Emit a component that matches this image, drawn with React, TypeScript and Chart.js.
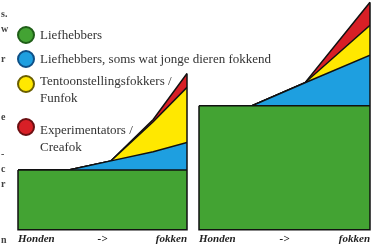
import React, { useEffect, useRef } from "react";
import { Chart, registerables } from "chart.js";

Chart.register(...registerables);

// ---- data ----
const seriesNames = [
  "Liefhebbers",
  "Liefhebbers, soms wat jonge dieren fokkend",
  "Tentoonstellingsfokkers /\nFunfok",
  "Experimentators /\nCreafok",
];
const seriesColors = ["#43a333", "#1e9fe0", "#ffe800", "#d81f26"];
const circleBorders = ["#1f5e18", "#0e4f86", "#6a5e00", "#6b0f12"];

const axisLabels = ["Honden", "->", "fokken"];
const axisTickPositions = [0, 50, 100];

const leftX = [0, 30, 55, 80, 100];
const leftGreen = [26, 26, 26, 26, 26];
const leftBlue = [0, 0, 4, 8, 12];
const leftYellow = [0, 0, 0, 13, 24];
const leftRed = [0, 0, 0, 1, 6];

const rightX = [0, 31, 62, 100];
const rightGreen = [54, 54, 54, 54];
const rightBlue = [0, 0, 10, 22];
const rightYellow = [0, 0, 0, 13];
const rightRed = [0, 0, 0, 10];

const marginFragments = ["s.", "w", "r", "e", "-", "c", "r", "n"];

// ---- layout / style constants ----
const fragmentTops = [8, 23, 53, 111, 148, 163, 178, 234];
const legendTops = [26, 50, 72, 121];
const circleOffsets = [0, 0, 3, -3];

const outlinePlugin = {
  id: "outline",
  afterDatasetsDraw(chart: any) {
    const { ctx, scales } = chart;
    const xs = chart.data.datasets[0].data.map((p: any) => p.x);
    const n = xs.length;
    const sumAt = (j: number) =>
      chart.data.datasets.reduce((s: number, d: any) => s + d.data[j].y, 0);
    const x0 = scales.x.getPixelForValue(xs[0]);
    const x1 = scales.x.getPixelForValue(xs[n - 1]);
    const yb = scales.y.getPixelForValue(0);
    const yl = scales.y.getPixelForValue(sumAt(0));
    const yr = scales.y.getPixelForValue(sumAt(n - 1));
    ctx.save();
    ctx.strokeStyle = "#111";
    ctx.lineWidth = 1.5;
    ctx.beginPath();
    ctx.moveTo(x0, yl);
    ctx.lineTo(x0, yb);
    ctx.lineTo(x1, yb);
    ctx.lineTo(x1, yr);
    ctx.stroke();
    ctx.restore();
  },
};

function Panel(props: {
  xs: number[];
  series: number[][];
  left: number;
  padLeft: number;
  padRight: number;
}) {
  const ref = useRef<HTMLCanvasElement>(null);
  useEffect(() => {
    const chart = new Chart(ref.current as HTMLCanvasElement, {
      type: "line",
      data: {
        datasets: props.series.map((vals, i) => ({
          label: seriesNames[i],
          data: props.xs.map((x, j) => ({ x, y: vals[j] })),
          backgroundColor: seriesColors[i],
          borderColor: "#111",
          borderWidth: 1.5,
          pointRadius: 0,
          fill: i === 0 ? "origin" : "-1",
          tension: 0,
        })),
      },
      options: {
        animation: false,
        responsive: false,
        maintainAspectRatio: false,
        layout: {
          padding: { left: props.padLeft, right: props.padRight, top: 0, bottom: 1 },
        },
        plugins: { legend: { display: false }, tooltip: { enabled: false } },
        scales: {
          x: {
            type: "linear",
            min: 0,
            max: 100,
            grid: { display: false, drawTicks: false },
            border: { display: false },
            afterBuildTicks: (axis: any) => {
              axis.ticks = axisTickPositions.map((v) => ({ value: v }));
            },
            ticks: {
              autoSkip: false,
              maxRotation: 0,
              align: "inner",
              padding: 3,
              color: "#222",
              font: {
                family: "'Liberation Serif', 'Times New Roman', serif",
                size: 11,
                style: "italic",
                weight: "bold",
              },
              callback: (v: any) => axisLabels[axisTickPositions.indexOf(Number(v))],
            },
          },
          y: { display: false, stacked: true, min: 0, max: 100 },
        },
      } as any,
      plugins: [outlinePlugin],
    });
    return () => chart.destroy();
  }, []);
  return (
    <canvas
      ref={ref}
      width={190}
      height={250}
      style={{ position: "absolute", left: props.left, top: 0, width: 190, height: 250, display: "block" }}
    />
  );
}

export default function App() {
  const font = "'Liberation Serif', 'Times New Roman', serif";
  return (
    <div
      style={{
        position: "absolute",
        left: 0,
        top: 0,
        width: 380,
        height: 250,
        background: "#fff",
        overflow: "hidden",
      }}
    >
      <Panel
        xs={leftX}
        series={[leftGreen, leftBlue, leftYellow, leftRed]}
        left={0}
        padLeft={18}
        padRight={2}
      />
      <Panel
        xs={rightX}
        series={[rightGreen, rightBlue, rightYellow, rightRed]}
        left={190}
        padLeft={9}
        padRight={10}
      />
      {marginFragments.map((t, i) => (
        <div
          key={"f" + i}
          style={{
            position: "absolute",
            left: 1,
            top: fragmentTops[i],
            fontFamily: font,
            fontSize: 10,
            fontWeight: "bold",
            color: "#444",
            lineHeight: "12px",
          }}
        >
          {t}
        </div>
      ))}
      {seriesNames.map((name, i) => (
        <div
          key={"l" + i}
          style={{ position: "absolute", left: 17, top: legendTops[i], display: "flex" }}
        >
          <div
            style={{
              width: 14,
              height: 14,
              borderRadius: "50%",
              background: seriesColors[i],
              border: "2px solid " + circleBorders[i],
              marginTop: circleOffsets[i],
              flex: "0 0 auto",
            }}
          />
          <div
            style={{
              marginLeft: 5,
              fontFamily: font,
              fontSize: 13,
              lineHeight: "17px",
              color: "#333",
              whiteSpace: "pre",
            }}
          >
            {name}
          </div>
        </div>
      ))}
    </div>
  );
}
